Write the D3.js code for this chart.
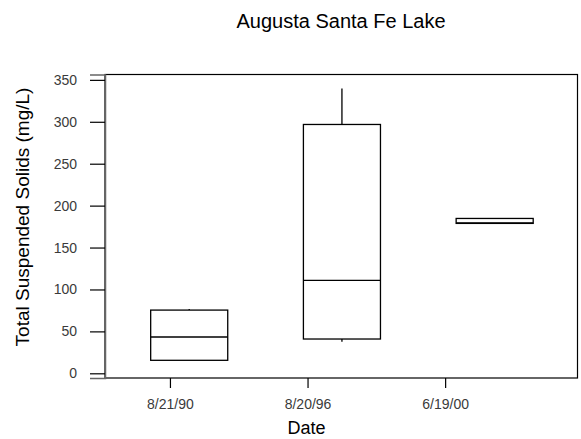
<!DOCTYPE html>
<html><head><meta charset="utf-8">
<script src="https://cdn.jsdelivr.net/npm/d3@7"></script>
<style>body{margin:0;background:#fff}svg{display:block}</style>
</head><body>
<svg id="c" width="581" height="439"></svg>
<script>
const categories = ["8/21/90", "8/20/96", "6/19/00"];
const tickPos = [1, 2, 3];
const boxPos = [1.14, 2.25, 3.36];
const whiskerLow = [15.5, 37.7, 178.8];
const q1 = [15.5, 40.9, 178.8];
const median = [43.3, 110.8, 179.5];
const q3 = [75.4, 296.8, 184.7];
const whiskerHigh = [76.6, 339.7, 184.7];
const yTicks = [0, 50, 100, 150, 200, 250, 300, 350];

const svg = d3.select("#c");
const L = 105, R = 577.5, T = 74.5, B = 378;
const x = d3.scaleLinear().domain([0.528, 3.962]).range([L, R]);
const y = d3.scaleLinear().domain([-5.6, 356.4]).range([B, T]);
const bw = 0.56;
const font = "Arial, 'Liberation Sans', sans-serif";

// frame
svg.append("rect").attr("x", L).attr("y", T).attr("width", R - L).attr("height", B - T)
  .attr("fill", "none").attr("stroke", "#000").attr("stroke-width", 1.2);

// y axis
const yAxis = d3.axisLeft(y).tickValues(yTicks).tickSize(15).tickPadding(13);
const gy = svg.append("g").attr("transform", `translate(${L},0)`).call(yAxis);
gy.select(".domain").attr("stroke", "#666").attr("stroke-width", 1.5);
gy.selectAll(".tick line").attr("stroke", "#000").attr("stroke-width", 1.2);
gy.selectAll(".tick text").attr("font-family", font).attr("font-size", 14).attr("fill", "#3a3a3a");

// x axis
const xAxis = d3.axisBottom(x).tickValues(tickPos).tickFormat((d, i) => categories[i]).tickSize(10).tickPadding(11);
const gx = svg.append("g").attr("transform", `translate(0,${B})`).call(xAxis);
gx.select(".domain").remove();
gx.selectAll(".tick line").attr("stroke", "#000").attr("stroke-width", 1.2);
gx.selectAll(".tick text").attr("font-family", font).attr("font-size", 14).attr("fill", "#3a3a3a");

// boxes
const data = categories.map((c, i) => ({c, p: boxPos[i], lo: whiskerLow[i], q1: q1[i], med: median[i], q3: q3[i], hi: whiskerHigh[i]}));
const g = svg.append("g").attr("stroke", "#000").attr("stroke-width", 1.3).attr("fill", "none");
const bx = g.selectAll("g.box").data(data).join("g").attr("class", "box");
bx.append("line").attr("x1", d => x(d.p)).attr("x2", d => x(d.p)).attr("y1", d => y(d.q3)).attr("y2", d => y(d.hi));
bx.append("line").attr("x1", d => x(d.p)).attr("x2", d => x(d.p)).attr("y1", d => y(d.q1)).attr("y2", d => y(d.lo));
bx.append("rect").attr("x", d => x(d.p - bw / 2)).attr("width", d => x(d.p + bw / 2) - x(d.p - bw / 2))
  .attr("y", d => y(d.q3)).attr("height", d => y(d.q1) - y(d.q3)).attr("fill", "#fff");
bx.append("line").attr("x1", d => x(d.p - bw / 2)).attr("x2", d => x(d.p + bw / 2)).attr("y1", d => y(d.med)).attr("y2", d => y(d.med));

// titles
svg.append("text").attr("x", 341).attr("y", 28).attr("text-anchor", "middle")
  .attr("font-family", font).attr("font-size", 20).text("Augusta Santa Fe Lake");
svg.append("text").attr("x", 306.5).attr("y", 434).attr("text-anchor", "middle")
  .attr("font-family", font).attr("font-size", 18).text("Date");
svg.append("text").attr("transform", "translate(29,217) rotate(-90)").attr("text-anchor", "middle")
  .attr("font-family", font).attr("font-size", 19).text("Total Suspended Solids (mg/L)");
</script>
</body></html>
